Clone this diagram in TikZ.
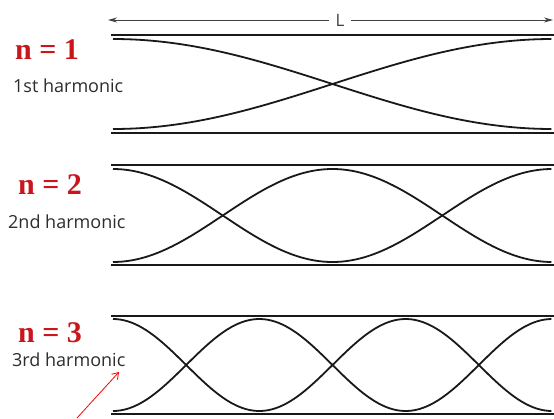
\documentclass[tikz,border=0pt]{standalone}
\usepackage{fontspec}
\setmainfont{Liberation Serif}
\newfontfamily\labelfont{Open Sans}
\usetikzlibrary{arrows.meta}
\definecolor{modered}{RGB}{200,22,28}
\definecolor{captgray}{RGB}{45,45,45}
\definecolor{inkdark}{RGB}{25,25,25}

\begin{document}
\begin{tikzpicture}[x=1pt,y=-1pt,
  wall/.style={line width=2.1pt, inkdark},
  wave/.style={line width=1.8pt, inkdark},
  modelabel/.style={anchor=base west, inner sep=0pt, text=modered,
    font=\fontsize{30}{30}\selectfont\bfseries},
  harmlabel/.style={anchor=base west, inner sep=0pt, text=captgray,
    font=\labelfont\fontsize{18}{18}\selectfont},
  dimline/.style={line width=0.9pt, black!75},
  dimtip/.style={-{Stealth[length=9pt,width=5pt]}},
]
\useasboundingbox (0,0) rectangle (554,418);
\fill[white] (0,0) rectangle (554,418);

% length marker across the top
\coordinate (Lleft) at (108,20);
\coordinate (Lright) at (553,20);
\node[font=\labelfont\fontsize{17}{17}\selectfont, text=black!75,
      inner xsep=6pt, inner ysep=0pt] (Lmark) at (340,20) {L};
\draw[dimline,dimtip] (Lmark.west) -- (Lleft);
\draw[dimline,dimtip] (Lmark.east) -- (Lright);

% tubes: mode / top wall / bottom wall / centre line / amplitude
\foreach \n/\t/\b/\m/\a in {1/35/133/84/45, 2/165/265/215.5/46.5, 3/316/414/365/46}{
  \coordinate (wallTL\n) at (111,\t);
  \coordinate (wallTR\n) at (554,\t);
  \coordinate (wallBL\n) at (111,\b);
  \coordinate (wallBR\n) at (554,\b);
  \draw[wall] (wallTL\n) -- (wallTR\n);
  \draw[wall] (wallBL\n) -- (wallBR\n);
  \draw[wave] plot[domain=0:1, samples=120] ({113+439*\x}, {\m-\a*cos(\n*180*\x)});
  \draw[wave] plot[domain=0:1, samples=120] ({113+439*\x}, {\m+\a*cos(\n*180*\x)});
}

% mode labels
\node[modelabel] (mode1) at (15,59) {n = 1};
\node[harmlabel] (harm1) at (13,92) {1st harmonic};
\node[modelabel] (mode2) at (18,194) {n = 2};
\node[harmlabel] (harm2) at (8,228) {2nd harmonic};
\node[modelabel] (mode3) at (18,342) {n = 3};
\node[harmlabel] (harm3) at (12,366) {3rd harmonic};

% red pointer
\coordinate (ptrtail) at (77,418);
\coordinate (ptrtip) at (119,372);
\draw[red, line width=0.8pt, -{Straight Barb[length=6pt,width=8pt]}] (ptrtail) -- (ptrtip);
\end{tikzpicture}
\end{document}
